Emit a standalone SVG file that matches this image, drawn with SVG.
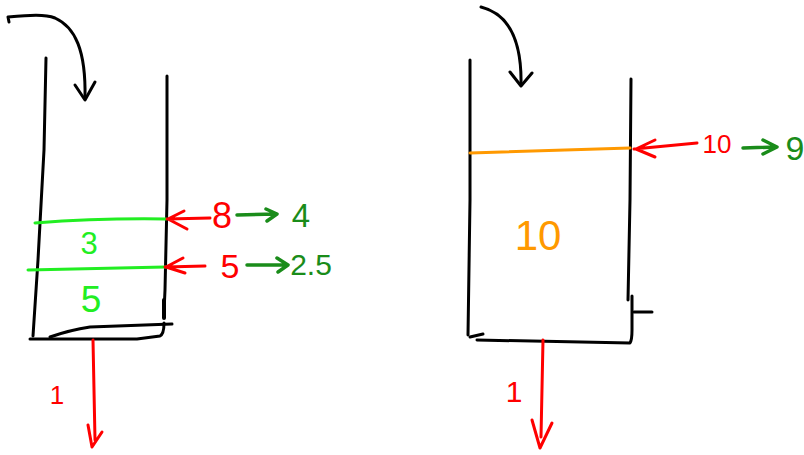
<svg xmlns="http://www.w3.org/2000/svg" width="804" height="455" viewBox="0 0 804 455">
<style>
.k{fill:none;stroke:#000;stroke-width:3;stroke-linecap:round;stroke-linejoin:round}
.r{fill:none;stroke:#ff0000;stroke-width:3;stroke-linecap:round;stroke-linejoin:round}
.g{fill:none;stroke:#1a8c1a;stroke-width:3.5;stroke-linecap:round;stroke-linejoin:round}
.lg{fill:none;stroke:#22ee22;stroke-width:3;stroke-linecap:round}
.o{fill:none;stroke:#ff9900;stroke-width:3;stroke-linecap:round}
text{font-family:"Liberation Sans","DejaVu Sans",sans-serif;text-anchor:middle}
.tr{fill:#ff0000}.tg{fill:#1a8c1a}.tlg{fill:#22ee22}.to{fill:#ff9900}
</style>
<rect width="804" height="455" fill="#fff"/>
<g id="tank-left">
<path class="k" d="M46,58 L44,150 L38,260 L33,336"/>
<path class="k" d="M167,76 L167,200 L165,290 L164,312"/>
<path class="k" d="M164,300 L164,318" style="stroke-width:4"/>
<path class="k" d="M30,339 L137,339 L160,336 Q164,334 164,323"/>
<path class="k" d="M50,337 Q70,330 90,327 L172,324"/>
<path class="lg" d="M35,223 Q100,218 166,219"/>
<path class="lg" d="M28,270 L165,267"/>
<text class="tlg" x="89" y="254" font-size="31">3</text>
<text class="tlg" x="91" y="312" font-size="37">5</text>
</g>
<g id="tank-right">
<path class="k" d="M470,60 L470,200 L468,335"/>
<path class="k" d="M470,337 L483,334"/>
<path class="k" d="M477,340 L630,343 Q632,340 632,330 L632,296"/>
<path class="k" d="M631,79 L630,200 L628,300"/>
<path class="k" d="M634,312 L652,312"/>
<path class="o" d="M470,153 L630,148"/>
<text class="to" x="538" y="250" font-size="42">10</text>
</g>
<g id="labels">
<text class="tr" x="222" y="228" font-size="36">8</text>
<text class="tr" x="230" y="278" font-size="34">5</text>
<text class="tg" x="301" y="227" font-size="33">4</text>
<text class="tg" x="311" y="275" font-size="30">2.5</text>
<text class="tr" x="57" y="404" font-size="26">1</text>
<text class="tr" x="717" y="153" font-size="26">10</text>
<text class="tg" x="795" y="160" font-size="34">9</text>
<text class="tr" x="514" y="402" font-size="30">1</text>
</g>
<g id="connectors">
<path class="k" d="M9,22 L8,17 C30,15 45,14 55,18 C75,27 86,50 85,98"/>
<path class="k" d="M75,85 L85,100 L95,82"/>
<path class="k" d="M481,7 C505,13 522,35 521,85"/>
<path class="k" d="M510,72 L521,86 L532,73"/>
<path class="r" d="M167,219 L210,218 M184,211 L168,219 L187,229"/>
<path class="r" d="M165,267 L205,266 M183,258 L166,267 L185,273"/>
<path class="g" d="M237,215 L276,214 M266,209 L277,214 L267,221"/>
<path class="g" d="M247,265 L287,265 M277,258 L288,265 L278,272"/>
<path class="r" d="M634,149 L697,143 M655,140 L636,149 L655,157"/>
<path class="g" d="M743,148 L776,147 M763,140 L777,147 L763,154"/>
<path class="r" d="M93,340 L95,440 M88,425 L92,447 L102,432"/>
<path class="r" d="M543,340 L541,437 M532,420 L540,448 L552,423"/>
</g>
</svg>
